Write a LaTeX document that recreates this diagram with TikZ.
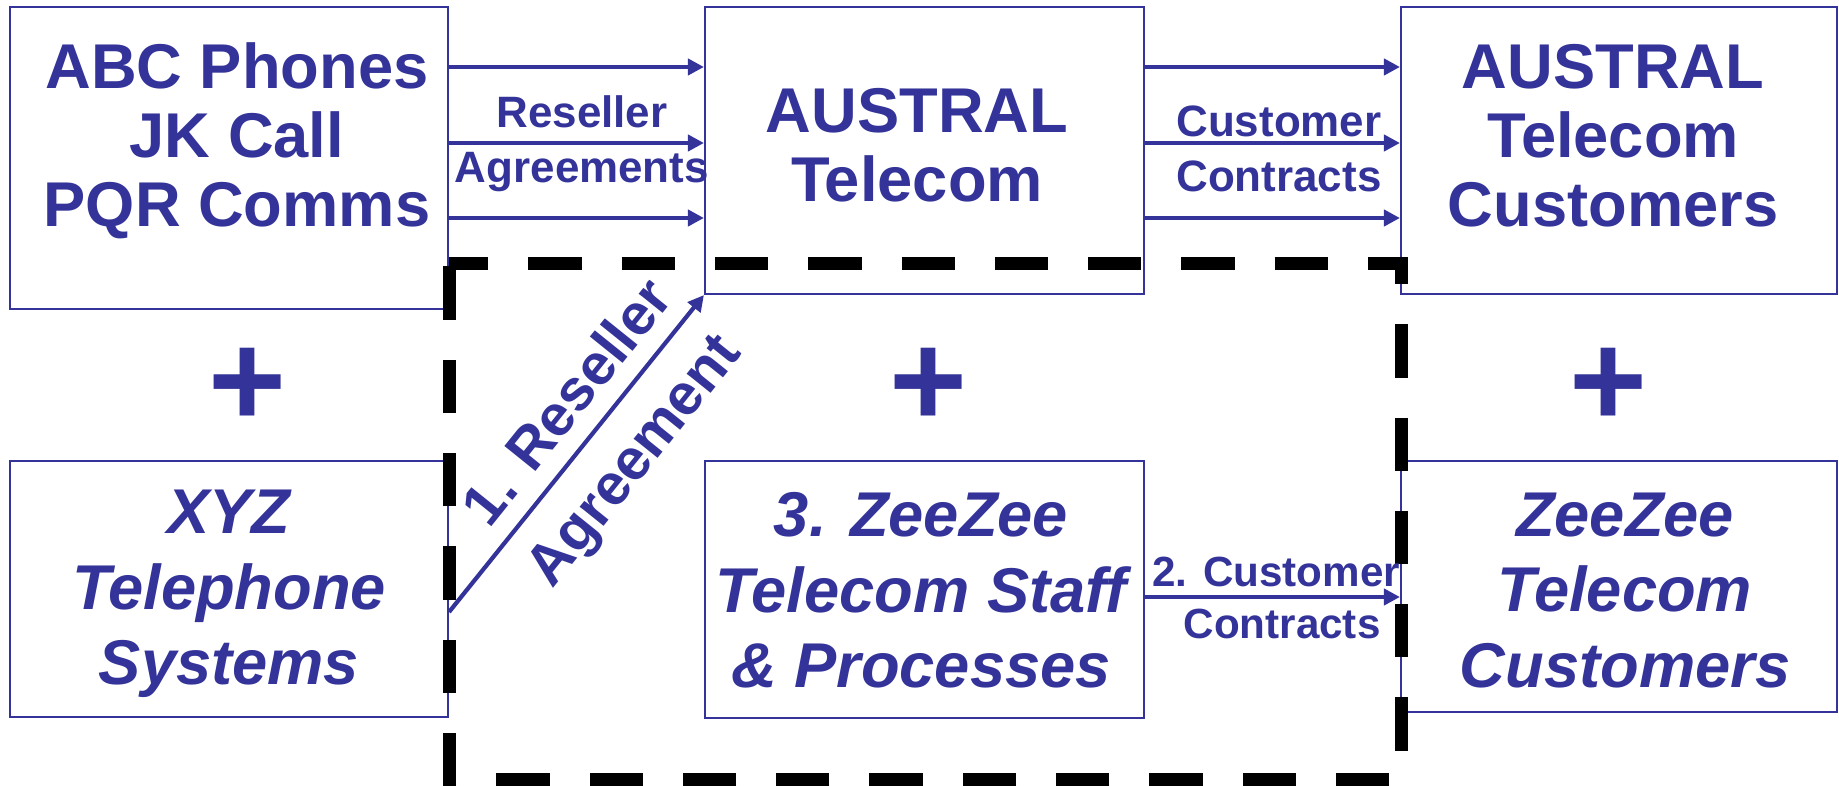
\documentclass[tikz,border=0pt]{standalone}
\usepackage{fontspec}
\setmainfont{Liberation Sans}
\usetikzlibrary{positioning,arrows.meta,calc}
\definecolor{telblue}{RGB}{51,51,153}

\tikzset{
  box/.style={draw=telblue, line width=0.6pt, rectangle, inner sep=0pt},
  bigtxt/.style={text=telblue, font=\fontsize{18}{19.6}\selectfont\bfseries, align=center},
  itxt/.style={text=telblue, font=\fontsize{18}{21.5}\selectfont\bfseries\itshape, align=center},
  lbl/.style={text=telblue, font=\fontsize{12.5}{14}\selectfont\bfseries, inner sep=0pt},
  dlbl/.style={text=telblue, font=\fontsize{16.5}{18}\selectfont\bfseries},
  flow/.style={draw=telblue, line width=1.2pt, -{Triangle[length=0.16cm,width=0.16cm]}},
  plus/.style={text=telblue, font=\fontsize{38}{38}\selectfont\bfseries, inner sep=0pt},
  scopeline/.style={line width=0.13cm, dash pattern=on 0.533cm off 0.4cm, dash phase=0.14cm}
}

\begin{document}
\begin{tikzpicture}
\useasboundingbox (0,0) rectangle (18.39,7.85);

% boxes
\node[box, minimum width=4.38cm, minimum height=3.02cm] (abc) at (2.29,6.27) {};
\node[box, minimum width=4.39cm, minimum height=2.87cm] (aus) at (9.245,6.345) {};
\node[box, minimum width=4.36cm, minimum height=2.87cm] (cus) at (16.19,6.345) {};
\node[box, minimum width=4.38cm, minimum height=2.56cm] (xyz) at (2.29,1.96) {};
\node[box, minimum width=4.39cm, minimum height=2.57cm] (zz) at (9.245,1.955) {};
\node[box, minimum width=4.36cm, minimum height=2.51cm] (zzc) at (16.19,1.985) {};

% dashed boundary
\draw[scopeline] (4.49,5.21) -- (14.01,5.21) -- (14.01,0.06) -- (4.49,0.06) -- cycle;

% box texts
\node[bigtxt] (abctxt) at ([xshift=0.08cm, yshift=0.175cm]abc.center) {ABC Phones\\JK Call\\PQR Comms};
\node[bigtxt] (austxt) at ([xshift=-0.075cm, yshift=0.05cm]aus.center) {AUSTRAL\\Telecom};
\node[bigtxt] (custxt) at ([xshift=-0.06cm, yshift=0.15cm]cus.center) {AUSTRAL\\Telecom\\Customers};
\node[itxt] (xyztxt) at ([yshift=-0.05cm]xyz.center) {XYZ\\Telephone\\Systems};
\node[itxt] (zztxt) at ([xshift=-0.035cm, yshift=-0.01cm]zz.center) {3. ZeeZee\\Telecom Staff\\\& Processes};
\node[itxt] (zzctxt) at ([xshift=0.06cm, yshift=-0.04cm]zzc.center) {ZeeZee\\Telecom\\Customers};

% plus signs
\node[plus] (p1) at (2.475,3.975) {+};
\node[plus] (p2) at (9.28,3.975) {+};
\node[plus] (p3) at (16.08,3.975) {+};

% top flows
\foreach \dy [count=\i] in {0.835,0.075,-0.675} {
  \coordinate (in\i) at ([yshift=\dy cm]aus.west);
  \coordinate (out\i) at ([yshift=\dy cm]cus.west);
  \draw[flow] (abc.east |- in\i) -- (in\i);
  \draw[flow] (aus.east |- out\i) -- (out\i);
}
\node[lbl, anchor=base] (resl) at ([xshift=-1.22cm, yshift=0.15cm]in2) {Reseller};
\node[lbl, anchor=base] (agrl) at ([xshift=-1.22cm, yshift=-0.40cm]in2) {Agreements};
\node[lbl, anchor=base] (cusl) at ([xshift=-1.21cm, yshift=0.06cm]out2) {Customer};
\node[lbl, anchor=base] (conl) at ([xshift=-1.21cm, yshift=-0.49cm]out2) {Contracts};

% bottom flow
\coordinate (c2) at ([yshift=-0.075cm]zz.east);
\draw[flow] (c2) -- (zzc.west |- c2);
\node[lbl, anchor=base, font=\fontsize{12}{14}\selectfont\bfseries] (cus2l) at ([xshift=1.31cm, yshift=0.10cm]c2) {2. Customer};
\node[lbl, anchor=base, font=\fontsize{12}{14}\selectfont\bfseries] (con2l) at ([xshift=1.37cm, yshift=-0.41cm]c2) {Contracts};

% diagonal flow
\coordinate (d1) at ([yshift=-0.23cm]xyz.east);
\draw[flow] (d1) -- node[dlbl, pos=0.585, sloped, above, inner sep=5pt] (d1a) {1. Reseller}
  node[dlbl, pos=0.575, sloped, below, inner sep=7pt] (d1b) {Agreement} (aus.south west);
\end{tikzpicture}
\end{document}
